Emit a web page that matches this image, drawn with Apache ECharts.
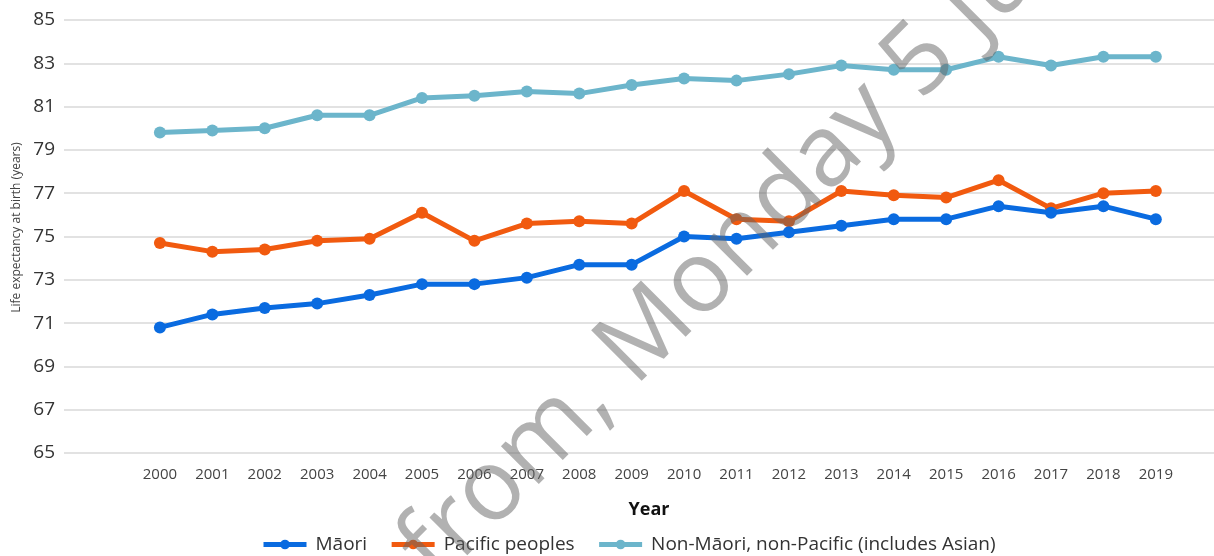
<!DOCTYPE html>
<html>
<head>
<meta charset="utf-8">
<script src="https://cdn.jsdelivr.net/npm/echarts@6/dist/echarts.min.js"></script>
<style>
  html, body { margin: 0; padding: 0; background: #fff; }
  #chart { width: 1214px; height: 556px; }
</style>
</head>
<body>
<div id="chart"></div>
<script>
const years = [2000, 2001, 2002, 2003, 2004, 2005, 2006, 2007, 2008, 2009,
  2010, 2011, 2012, 2013, 2014, 2015, 2016, 2017, 2018, 2019]
const maori = [70.8, 71.4, 71.7, 71.9, 72.3, 72.8, 72.8, 73.1, 73.7, 73.7,
  75.0, 74.9, 75.2, 75.5, 75.8, 75.8, 76.4, 76.1, 76.4, 75.8]
const pacific = [74.7, 74.3, 74.4, 74.8, 74.9, 76.1, 74.8, 75.6, 75.7, 75.6,
  77.1, 75.8, 75.7, 77.1, 76.9, 76.8, 77.6, 76.3, 77.0, 77.1]
const other = [79.8, 79.9, 80.0, 80.6, 80.6, 81.4, 81.5, 81.7, 81.6, 82.0,
  82.3, 82.2, 82.5, 82.9, 82.7, 82.7, 83.3, 82.9, 83.3, 83.3]
const seriesNames = ['Māori', 'Pacific peoples', 'Non-Māori, non-Pacific (includes Asian)']
const colors = ['#0a6be0', '#f15a0f', '#6cb5cb']
const yTicks = { min: 65, max: 85, interval: 2 }

const font = '"Open Sans", "Noto Sans", sans-serif'
const pairs = arr => arr.map((v, i) => [years[i], v])

const chart = echarts.init(document.getElementById('chart'))
const option = {
  animation: false,
  color: colors,
  textStyle: { fontFamily: font },
  grid: {
    left: 64,
    right: 0,
    top: 20,
    bottom: 103,
    outerBoundsMode: 'none'
  },
  legend: {
    bottom: -3,
    left: 256,
    itemWidth: 43,
    itemHeight: 12,
    itemGap: 22,
    lineStyle: { width: 5 },
    textStyle: { fontSize: 19, color: '#333', fontFamily: font, padding: [0, 0, 0, 4] },
    data: seriesNames
  },
  xAxis: {
    type: 'value',
    min: 1998.17,
    max: 2020.11,
    name: 'Year',
    nameLocation: 'middle',
    nameGap: 48,
    nameTextStyle: { fontSize: 18, fontWeight: 'bold', color: '#111', padding: [0, 0, 0, 20] },
    axisLine: { show: false },
    axisTick: { show: false },
    splitLine: { show: false },
    axisLabel: {
      customValues: years,
      fontSize: 15,
      color: '#444',
      margin: 14,
      formatter: v => String(v)
    }
  },
  yAxis: {
    type: 'value',
    min: yTicks.min,
    max: yTicks.max,
    interval: yTicks.interval,
    name: 'Life expectancy at birth (years)',
    nameLocation: 'middle',
    nameGap: 40,
    nameTextStyle: { fontSize: 12, color: '#444', padding: [0, 0, 0, 18] },
    axisLine: { show: false },
    axisTick: { show: false },
    axisLabel: { fontSize: 19, color: '#333', margin: 9 },
    splitLine: { lineStyle: { color: '#d8d8d8', width: 1.5 } }
  },
  series: [maori, pacific, other].map((arr, i) => ({
    name: seriesNames[i],
    type: 'line',
    data: pairs(arr),
    symbol: 'circle',
    symbolSize: 12,
    lineStyle: { width: 5 },
    z: 3 - i
  })),
  graphic: [
    {
      type: 'text',
      x: 650,
      y: 403,
      rotation: Math.PI / 4,
      z: 100,
      silent: true,
      style: {
        text: 'Monday 5 June 2023',
        font: '100px ' + font,
        fill: 'rgba(100,100,100,0.5)',
        align: 'left',
        verticalAlign: 'bottom'
      }
    },
    {
      type: 'text',
      x: 650,
      y: 403,
      rotation: Math.PI / 4,
      z: 100,
      silent: true,
      style: {
        text: 'from, ',
        font: '100px ' + font,
        fill: 'rgba(100,100,100,0.5)',
        align: 'right',
        verticalAlign: 'bottom'
      }
    }
  ]
}
chart.setOption(option)
</script>
</body>
</html>
